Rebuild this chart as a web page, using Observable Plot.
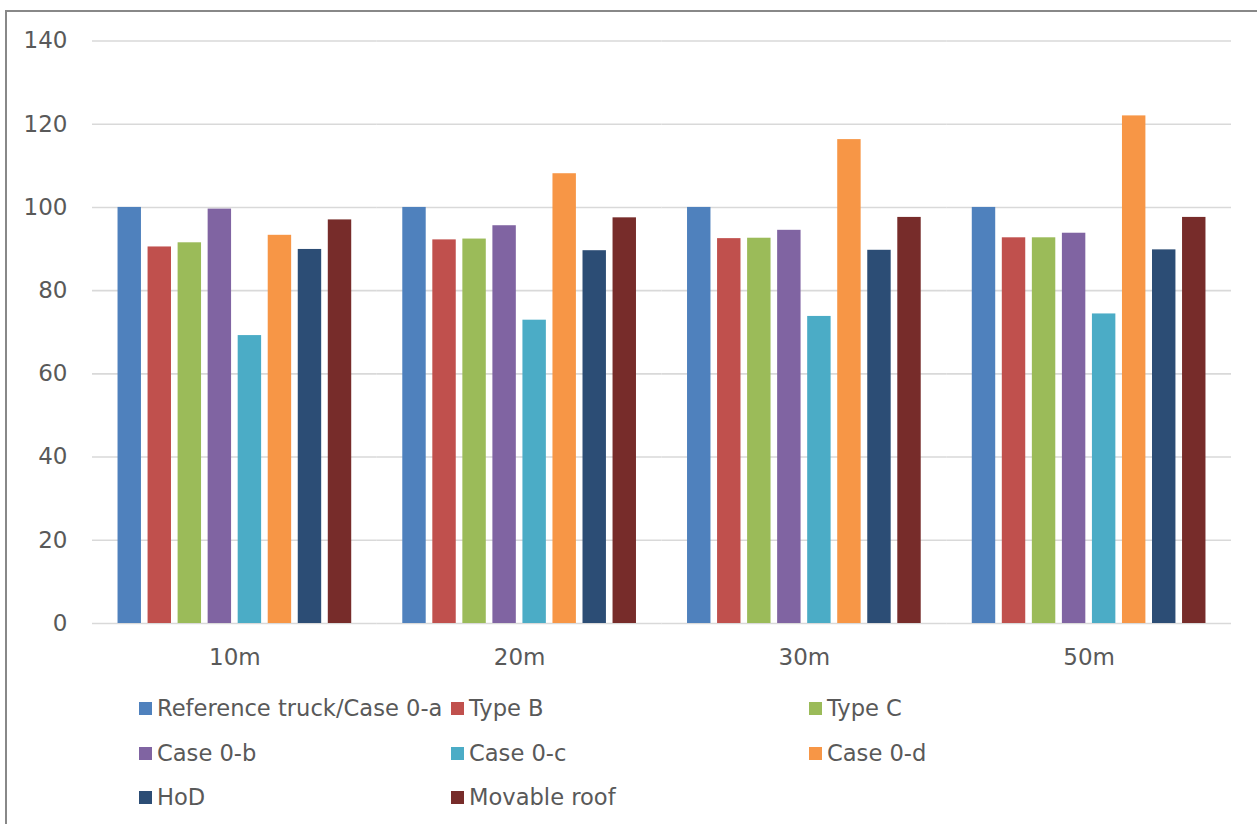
<!DOCTYPE html>
<html>
<head>
<meta charset="utf-8">
<script src="https://cdn.jsdelivr.net/npm/d3@7"></script>
<script src="https://cdn.jsdelivr.net/npm/@observablehq/plot@0.6"></script>
<style>
  html, body { margin: 0; padding: 0; background: #fff; overflow: hidden; }
  #frame {
    position: absolute; left: 5px; top: 10px;
    width: 1300px; height: 900px;
    border-left: 2px solid #888; border-top: 2px solid #888;
    font-family: "DejaVu Sans", Verdana, sans-serif;
  }
  #chart { position: absolute; left: 0; top: 0; }
  #legend { position: absolute; left: 0; top: 0; width: 1250px; height: 200px; }
  .item { position: absolute; display: flex; align-items: center; font-size: 22.6px; color: #595959; white-space: nowrap; }
  .sw { width: 13px; height: 13px; margin-right: 5px; flex: none; }
</style>
</head>
<body>
<div id="frame">
  <div id="chart"></div>
  <div id="legend"></div>
</div>
<script>
const distances = ["10m", "20m", "30m", "50m"];
const seriesNames = ["Reference truck/Case 0-a", "Type B", "Type C", "Case 0-b", "Case 0-c", "Case 0-d", "HoD", "Movable roof"];
const seriesColors = ["#4F81BD", "#C0504D", "#9BBB59", "#8064A2", "#4BACC6", "#F79646", "#2C4D75", "#772C2A"];

const refTruck    = [100, 100, 100, 100];
const typeB       = [90.5, 92.2, 92.5, 92.7];
const typeC       = [91.5, 92.4, 92.6, 92.7];
const case0b      = [99.6, 95.6, 94.5, 93.8];
const case0c      = [69.2, 72.9, 73.8, 74.4];
const case0d      = [93.3, 108.1, 116.3, 122.0];
const hod         = [89.9, 89.6, 89.7, 89.8];
const movableRoof = [97.0, 97.5, 97.6, 97.6];

const yTicks = [0, 20, 40, 60, 80, 100, 120, 140];

const seriesValues = [refTruck, typeB, typeC, case0b, case0c, case0d, hod, movableRoof];
const rows = [];
distances.forEach((d, i) => {
  seriesNames.forEach((s, j) => rows.push({dist: d, series: s, value: seriesValues[j][i]}));
});

const chart = Plot.plot({
  width: 1250,
  height: 671,
  marginLeft: 85,
  marginRight: 26,
  marginTop: 28.5,
  marginBottom: 60,
  style: {fontFamily: "DejaVu Sans, Verdana, sans-serif", fontSize: "23px", color: "#595959", background: "transparent"},
  fx: {domain: distances, padding: 0, round: false, label: null, tickSize: 0, tickPadding: 25},
  x: {domain: seriesNames, paddingInner: 0.22, paddingOuter: 0.85, round: false, axis: null},
  y: {domain: [0, 140], ticks: yTicks, tickSize: 0, tickPadding: 25, label: null},
  color: {domain: seriesNames, range: seriesColors},
  marks: [
    Plot.gridY(yTicks, {stroke: "#d9d9d9", strokeOpacity: 1, strokeWidth: 1.6}),
    Plot.barY(rows, {fx: "dist", x: "series", y: "value", fill: "series", insetLeft: 0, insetRight: 0})
  ]
});
document.getElementById("chart").appendChild(chart);

// legend (positions relative to frame content box: page x - 7, page y - 12)
const colLeft = [132, 444, 802];
const rowCenter = [696, 741, 785];
const legend = d3.select("#legend");
seriesNames.forEach((name, i) => {
  const col = i % 3, row = Math.floor(i / 3);
  const item = legend.append("div").attr("class", "item")
    .style("left", colLeft[col] + "px")
    .style("top", (rowCenter[row] - 14) + "px")
    .style("height", "28px");
  item.append("div").attr("class", "sw").style("background", seriesColors[i]);
  item.append("span").text(name);
});
</script>
</body>
</html>
